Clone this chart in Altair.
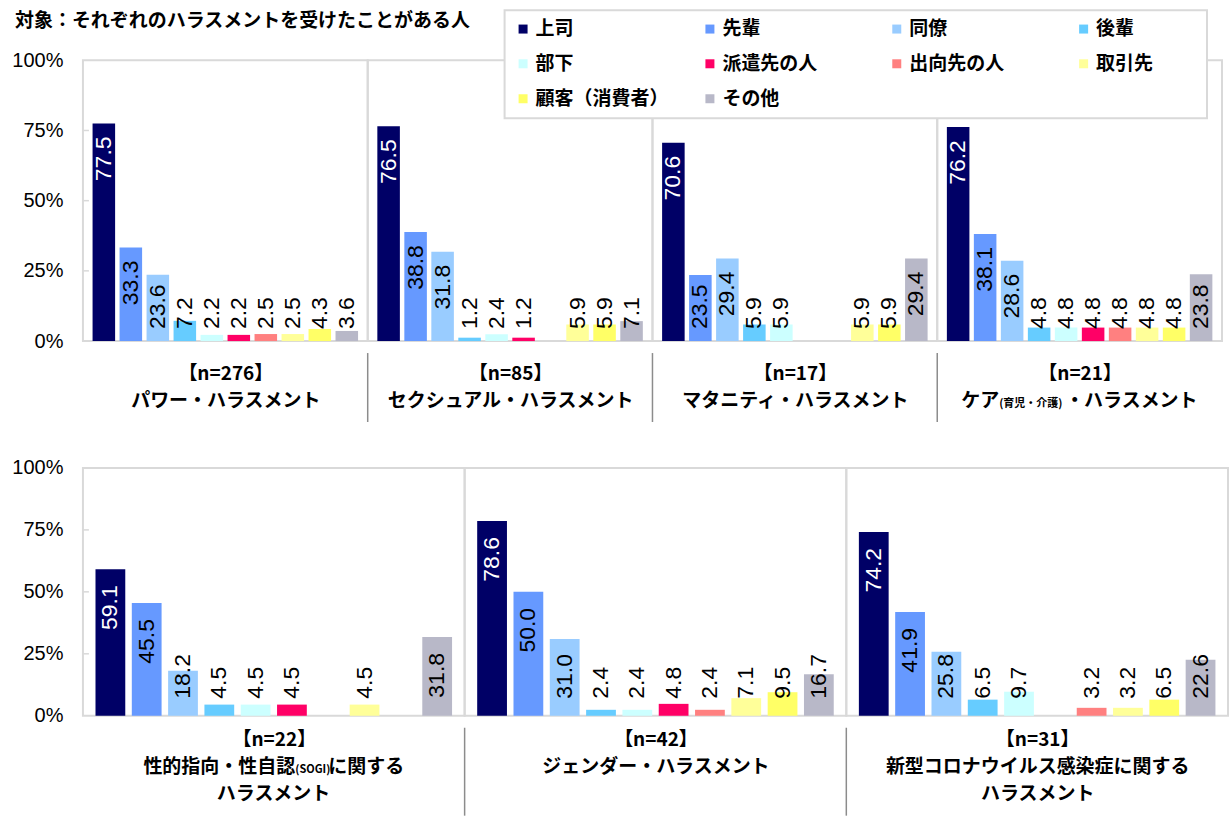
import altair as alt
import pandas as pd

# ---------------- data ----------------
CATS = ["上司", "先輩", "同僚", "後輩", "部下", "派遣先の人", "出向先の人", "取引先", "顧客（消費者）", "その他"]
COLORS = ["#000066", "#6699FF", "#99CCFF", "#66CCFF", "#CCFFFF", "#FF0066", "#FF8080", "#FFFF99", "#FFFF66", "#B8B8C8"]

TITLE = "対象：それぞれのハラスメントを受けたことがある人"

N_LABELS = ["【n=276】", "【n=85】", "【n=17】", "【n=21】", "【n=22】", "【n=42】", "【n=31】"]

# each panel name: list of lines; each line: list of (text, small_font?)
NAME_LINES = [
    [[("パワー・ハラスメント", False)]],
    [[("セクシュアル・ハラスメント", False)]],
    [[("マタニティ・ハラスメント", False)]],
    [[("ケア", False), ("(育児・介護)", True), ("・ハラスメント", False)]],
    [[("性的指向・性自認", False), ("(SOGI)", True), ("に関する", False)], [("ハラスメント", False)]],
    [[("ジェンダー・ハラスメント", False)]],
    [[("新型コロナウイルス感染症に関する", False)], [("ハラスメント", False)]],
]

power = [77.5, 33.3, 23.6, 7.2, 2.2, 2.2, 2.5, 2.5, 4.3, 3.6]
sexual = [76.5, 38.8, 31.8, 1.2, 2.4, 1.2, 0, 5.9, 5.9, 7.1]
maternity = [70.6, 23.5, 29.4, 5.9, 5.9, 0, 0, 5.9, 5.9, 29.4]
care = [76.2, 38.1, 28.6, 4.8, 4.8, 4.8, 4.8, 4.8, 4.8, 23.8]
sogi = [59.1, 45.5, 18.2, 4.5, 4.5, 4.5, 0, 4.5, 0, 31.8]
gender = [78.6, 50.0, 31.0, 2.4, 2.4, 4.8, 2.4, 7.1, 9.5, 16.7]
corona = [74.2, 41.9, 25.8, 6.5, 9.7, 0, 3.2, 3.2, 6.5, 22.6]

VALUES = [power, sexual, maternity, care, sogi, gender, corona]

Y_TICKS = [0, 25, 50, 75, 100]
INNER_TICKS = [25, 50, 75]

# ---------------- style ----------------
NUM_FONT = "Liberation Sans"
JP_FONT = "Noto Sans CJK JP"
VAL_SIZE = 23
NAME_SIZE = 19
SMALL_SIZE = 11

TOP = dict(w=285, h=281, pi=0.165, po=0.357, tp=23, lh=28, gap=13, clamp=12, sep=81)
BOT = dict(w=382, h=248, pi=0.18, po=0.346, tp=15, lh=27, gap=16, clamp=17, sep=100)
ROW_GAP = 127

# legend frame (pixels, relative to the last top panel)
LEG_BOX = dict(x=-433, x2=270, y=-50, y2=58)

LEGEND = alt.Legend(
    title=None, orient="none", legendX=422, legendY=-50, columns=4, direction="horizontal",
    symbolType="square", symbolSize=81, symbolStrokeWidth=0,
    labelFont=JP_FONT, labelFontSize=19, labelFontWeight="bold", labelColor="black",
    labelOffset=3, labelLimit=300, columnPadding=31, rowPadding=15, gridAlign="all",
    padding=9, zindex=1,
)


def text_width(s, size):
    return sum(size * (0.5 if ord(c) < 128 else 1.0) for c in s)


def panel(idx, first, p):
    w, h = p["w"], p["h"]
    k = h / 100.0
    df = pd.DataFrame({"cat": CATS, "value": VALUES[idx]})
    df = df[df["value"] > 0]

    lines = NAME_LINES[idx]
    mixed = any(len(line) > 1 for line in lines)
    axis_title = [N_LABELS[idx]]
    if not mixed:
        axis_title += [line[0][0] for line in lines]

    x = alt.X(
        "cat:N",
        scale=alt.Scale(domain=CATS, paddingInner=p["pi"], paddingOuter=p["po"]),
        axis=alt.Axis(labels=False, ticks=False, domain=False, grid=False,
                      title=axis_title, titleFont=JP_FONT, titleFontSize=NAME_SIZE,
                      titleFontWeight="bold", titleColor="black", titlePadding=p["tp"],
                      titleLineHeight=p["lh"], titleBaseline="top"),
    )
    if first:
        yaxis = alt.Axis(values=Y_TICKS, labelExpr="datum.value + '%'", labelFont=NUM_FONT,
                         labelFontSize=20, labelColor="black", labelPadding=20,
                         ticks=False, tickSize=0, domain=False, grid=False, title=None)
    else:
        yaxis = None
    yscale = alt.Scale(domain=[0, 100], nice=False)

    bars = alt.Chart(df).mark_bar().encode(
        x=x,
        y=alt.Y("value:Q", scale=yscale, axis=yaxis),
        color=alt.Color("cat:N", scale=alt.Scale(domain=CATS, range=COLORS), legend=LEGEND),
    )

    labels = alt.Chart(df).transform_calculate(
        label="format(datum.value, '.1f')"
    ).transform_calculate(
        pos=f"max(datum.value - ({p['gap']} + ((length(datum.label) - 1) * 0.556 + 0.278) * {VAL_SIZE}) / {k}, {p['clamp']} / {k})"
    ).mark_text(angle=270, align="left", baseline="middle", font=NUM_FONT, fontSize=VAL_SIZE).encode(
        x=x,
        y=alt.Y("pos:Q", scale=yscale, axis=yaxis),
        text="label:N",
        color=alt.condition(alt.datum.cat == CATS[0], alt.value("white"), alt.value("black")),
    )

    layers = [bars, labels]
    one = pd.DataFrame({"s": [0]})

    if first:
        layers.append(
            alt.Chart(pd.DataFrame({"v": INNER_TICKS})).mark_rule(color="#D9D9D9", strokeWidth=1.5).encode(
                y=alt.Y("v:Q", scale=yscale, axis=yaxis), x=alt.value(0), x2=alt.value(6)
            )
        )
    else:
        layers.append(
            alt.Chart(one).mark_rule(color="#8C8C8C", strokeWidth=1.5).encode(
                x=alt.value(0), y=alt.value(h + 12), y2=alt.value(h + p["sep"])
            )
        )

    # name lines with mixed font sizes are drawn piece by piece
    if mixed:
        for li, line in enumerate(lines):
            sizes = [SMALL_SIZE if small else NAME_SIZE for _, small in line]
            widths = [text_width(t, s) for (t, _), s in zip(line, sizes)]
            xpos = w / 2 - sum(widths) / 2
            ybase = h + p["tp"] + (li + 1) * p["lh"] + round(0.79 * NAME_SIZE)
            for (t, _), s, wd in zip(line, sizes, widths):
                layers.append(
                    alt.Chart(one).mark_text(text=t, font=JP_FONT, fontSize=s, fontWeight="bold",
                                             color="black", align="left", baseline="alphabetic").encode(
                        x=alt.value(xpos), y=alt.value(ybase)
                    )
                )
                xpos += wd

    # legend frame, drawn with the last top panel so it sits above the panel borders
    if idx == 3:
        layers.append(
            alt.Chart(one).mark_rect(fill="white", stroke="#D9D9D9", strokeWidth=2).encode(
                x=alt.value(LEG_BOX["x"]), x2=alt.value(LEG_BOX["x2"]),
                y=alt.value(LEG_BOX["y"]), y2=alt.value(LEG_BOX["y2"]),
            )
        )

    props = dict(width=w, height=h)
    if idx == 0:
        props["title"] = alt.TitleParams(TITLE, anchor="start", frame="group", dx=-68, offset=0,
                                         baseline="bottom", font=JP_FONT, fontSize=19,
                                         fontWeight="bold", color="black")
    return alt.layer(*layers).properties(**props)


top = alt.hconcat(*[panel(i, i == 0, TOP) for i in range(4)], spacing=0, bounds="flush")
bottom = alt.hconcat(*[panel(i, i == 4, BOT) for i in range(4, 7)], spacing=0, bounds="flush")

chart = alt.vconcat(top, bottom, spacing=TOP["h"] + ROW_GAP, bounds="flush").properties(
    padding={"left": 10, "top": 8, "right": 0, "bottom": 0},
    background="white",
).configure_view(stroke="#D9D9D9", strokeWidth=2)

chart.save("out.html", embed_options={"renderer": "svg", "actions": False})
